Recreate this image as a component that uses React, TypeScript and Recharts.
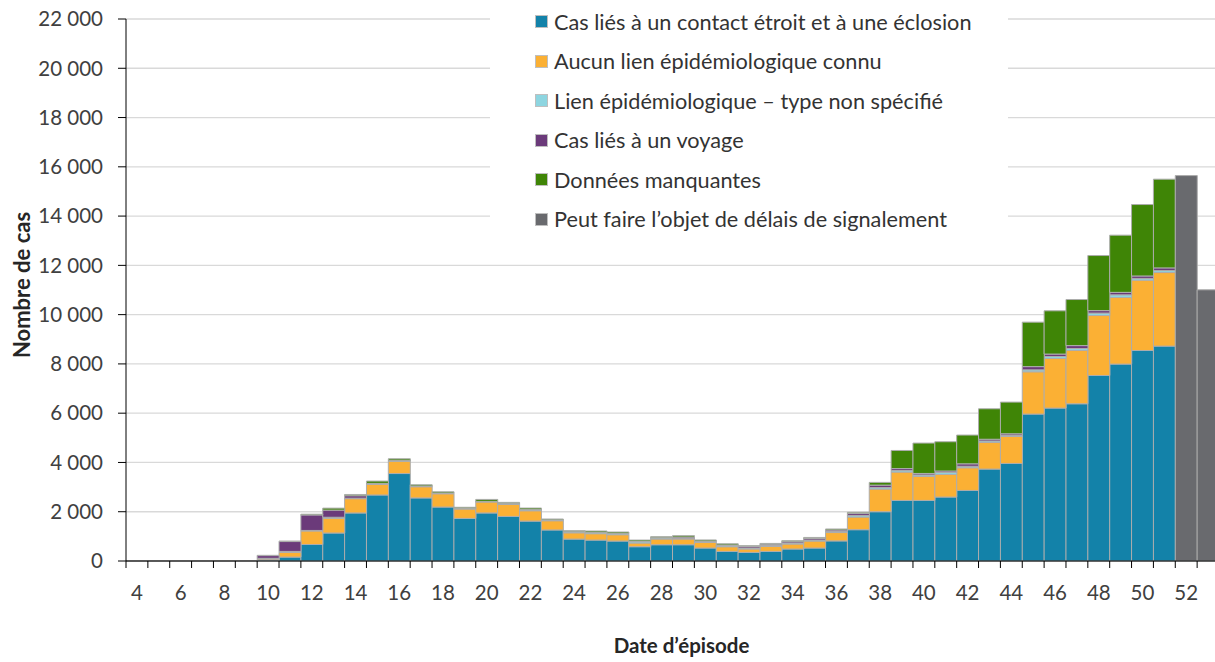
import React from 'react';
import { BarChart, Bar, XAxis, YAxis, CartesianGrid, Legend, Label } from 'recharts';

const weeks = [
  4, 5, 6, 7, 8, 9, 10, 11, 12, 13, 14, 15, 16, 17, 18, 19, 20, 21, 22, 23, 24, 25, 26, 27, 28,
  29, 30, 31, 32, 33, 34, 35, 36, 37, 38, 39, 40, 41, 42, 43, 44, 45, 46, 47, 48, 49, 50, 51, 52, 53,
];

// close contact / outbreak
const contactCases = [
  5, 5, 5, 5, 5, 10, 40, 160, 670, 1136, 1950, 2680, 3550, 2560, 2190, 1730, 1950, 1810, 1620, 1260, 890, 850, 810, 580, 660,
  660, 527, 389, 349, 389, 487, 527, 815, 1270, 2000, 2459, 2459, 2596, 2864, 3732, 3960, 5963, 6207, 6382, 7530, 7992, 8544, 8722, 0, 0,
];
// no known epi link
const unknownLink = [
  3, 3, 3, 3, 5, 5, 40, 190, 550, 600, 580, 430, 500, 455, 540, 380, 445, 485, 420, 375, 255, 258, 257, 150, 232,
  232, 227, 191, 138, 203, 203, 284, 340, 515, 921, 1152, 974, 918, 921, 1080, 1095, 1717, 2013, 2162, 2434, 2702, 2856, 2986, 0, 0,
];
// epi link, type unspecified
const unspecifiedLink = [
  0, 0, 0, 0, 0, 0, 30, 40, 20, 40, 20, 20, 20, 20, 20, 20, 20, 30, 40, 30, 40, 50, 50, 55, 45,
  30, 40, 55, 40, 40, 40, 40, 50, 60, 60, 60, 60, 80, 60, 60, 50, 80, 80, 80, 100, 110, 70, 80, 0, 0,
];
const travelCases = [
  0, 0, 0, 0, 0, 0, 110, 400, 630, 290, 100, 20, 20, 10, 10, 5, 5, 5, 5, 5, 5, 5, 5, 5, 10,
  50, 15, 15, 60, 50, 55, 65, 55, 80, 100, 80, 60, 60, 100, 70, 60, 130, 100, 120, 100, 100, 100, 110, 0, 0,
];
const missingData = [
  0, 0, 0, 0, 0, 0, 10, 20, 30, 80, 50, 95, 60, 50, 50, 45, 80, 50, 65, 35, 40, 55, 55, 60, 40,
  55, 45, 50, 35, 32, 40, 40, 40, 50, 110, 736, 1234, 1186, 1167, 1237, 1285, 1806, 1755, 1869, 2234, 2322, 2898, 3600, 0, 0,
];
// may be subject to reporting delays
const reportingDelay = [
  0, 0, 0, 0, 0, 0, 0, 0, 0, 0, 0, 0, 0, 0, 0, 0, 0, 0, 0, 0, 0, 0, 0, 0, 0,
  0, 0, 0, 0, 0, 0, 0, 0, 0, 0, 0, 0, 0, 0, 0, 0, 0, 0, 0, 0, 0, 0, 0, 15644, 11007,
];

const yTicks = [0, 2000, 4000, 6000, 8000, 10000, 12000, 14000, 16000, 18000, 20000, 22000];

const series = [
  { key: 'contact', name: 'Cas liés à un contact étroit et à une éclosion', color: '#1382A9' },
  { key: 'unknown', name: 'Aucun lien épidémiologique connu', color: '#FBB034' },
  { key: 'unspecified', name: 'Lien épidémiologique – type non spécifié', color: '#8DD5E0' },
  { key: 'travel', name: 'Cas liés à un voyage', color: '#6B3A7A' },
  { key: 'missing', name: 'Données manquantes', color: '#3F8506' },
  { key: 'delay', name: 'Peut faire l’objet de délais de signalement', color: '#696A6E' },
];

const data = weeks.map((week, i) => ({
  week,
  contact: contactCases[i],
  unknown: unknownLink[i],
  unspecified: unspecifiedLink[i],
  travel: travelCases[i],
  missing: missingData[i],
  delay: reportingDelay[i],
}));

const CHART_W = 1219;
const CHART_H = 662;
const Y_AXIS_W = 126;
const BAND = (CHART_W - Y_AXIS_W) / weeks.length;
const FONT = 'Lato, sans-serif';
const TEXT = '#404040';

const formatThousands = (v: number) => String(v).replace(/\B(?=(\d{3})+(?!\d))/g, ' ');

const WeekTick = (props: any) => {
  const { x, y, payload } = props;
  const w = Number(payload.value);
  return (
    <g>
      <line x1={x - BAND / 2} x2={x - BAND / 2} y1={y} y2={y + 7} stroke="#000" />
      {w % 2 === 0 && (
        <text x={x} y={y + 31} textAnchor="middle" dominantBaseline="central" fill={TEXT} fontSize={20.5} fontFamily={FONT}>
          {w}
        </text>
      )}
    </g>
  );
};

const LegendBox = () => (
  <div style={{ background: '#fff', width: '100%', height: '100%', paddingTop: 2, boxSizing: 'border-box' }}>
    {series.map((s) => (
      <div key={s.key} style={{ display: 'flex', alignItems: 'center', height: 39.5, paddingLeft: 45 }}>
        <span
          style={{
            display: 'inline-block',
            width: 11,
            height: 11,
            background: s.color,
            border: '1px solid #BFBFBF',
            marginRight: 6,
          }}
        />
        <span style={{ fontFamily: FONT, fontSize: 21.7, color: '#333', whiteSpace: 'nowrap' }}>{s.name}</span>
      </div>
    ))}
  </div>
);

export default function App() {
  return (
    <div style={{ position: 'absolute', left: 0, top: 0, width: 1215, height: 662, overflow: 'hidden', background: '#fff' }}>
      <BarChart
        width={CHART_W}
        height={CHART_H}
        data={data}
        margin={{ top: 19, right: 0, bottom: 1, left: 0 }}
        barCategoryGap={0}
        barGap={0}
      >
        <CartesianGrid vertical={false} stroke="#D9D9D9" strokeWidth={1.3} />
        <XAxis
          dataKey="week"
          interval={0}
          height={100}
          tickLine={false}
          tickSize={0}
          tickMargin={0}
          axisLine={{ stroke: '#000' }}
          tick={<WeekTick />}
        >
          <Label
            value="Date d’épisode"
            position="insideBottom"
            offset={8}
            dx={9}
            style={{ fontFamily: FONT, fontSize: 20.5, fontWeight: 700, fill: '#262626' }}
          />
        </XAxis>
        <YAxis
          width={Y_AXIS_W}
          domain={[0, 22000]}
          ticks={yTicks}
          interval={0}
          tickFormatter={formatThousands}
          tickSize={8}
          tickMargin={15}
          axisLine={{ stroke: '#000' }}
          tickLine={{ stroke: '#000' }}
          tick={{ fill: TEXT, fontSize: 20.5, fontFamily: FONT }}
        >
          <Label
            value="Nombre de cas"
            angle={-90}
            position="center"
            dx={-41}
            dy={-5}
            style={{ fontFamily: FONT, fontSize: 22, fontWeight: 700, fill: '#262626', textAnchor: 'middle' }}
          />
        </YAxis>
        <Legend
          layout="vertical"
          align="center"
          verticalAlign="middle"
          content={<LegendBox />}
          wrapperStyle={{ left: 490, top: 0, width: 518, height: 242 }}
        />
        {series.map((s) => (
          <Bar
            key={s.key}
            dataKey={s.key}
            name={s.name}
            stackId="cases"
            fill={s.color}
            stroke="#ADADAD"
            strokeWidth={1}
            isAnimationActive={false}
          />
        ))}
      </BarChart>
    </div>
  );
}
